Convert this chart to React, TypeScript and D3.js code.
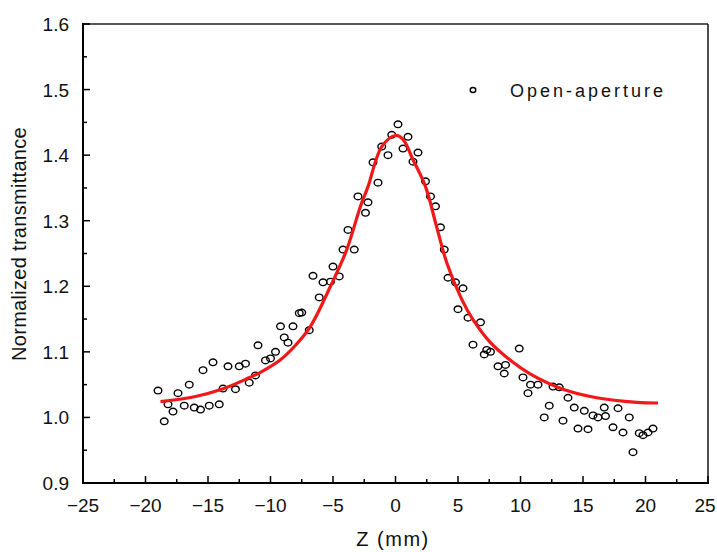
import React from 'react';
import * as d3 from 'd3';

// measured points (Z in mm, normalized transmittance)
const zMeasured = [
  -19.0, -18.5, -18.2, -17.8, -17.4, -16.9, -16.5, -16.1, -15.6, -15.4, -14.9, -14.6, -14.1, -13.8,
  -13.4, -12.8, -12.5, -12.0, -11.7, -11.2, -11.0, -10.4, -10.0, -9.6, -9.2, -8.9, -8.6, -8.2,
  -7.7, -7.5, -6.9, -6.6, -6.1, -5.8, -5.2, -5.0, -4.5, -4.2, -3.8, -3.3, -3.0, -2.4, -2.2,
  -1.8, -1.4, -1.1, -0.6, -0.3, 0.2, 0.6, 1.0, 1.4, 1.8, 2.4, 2.8, 3.2, 3.6, 3.9, 4.2, 4.8,
  5.0, 5.4, 5.8, 6.2, 6.8, 7.1, 7.3, 7.6, 8.2, 8.7, 8.8, 9.9, 10.2, 10.6, 10.8, 11.4, 11.9,
  12.3, 12.6, 13.1, 13.4, 13.8, 14.3, 14.6, 15.1, 15.4, 15.8, 16.2, 16.7, 16.8, 17.4, 17.8,
  18.2, 18.7, 19.0, 19.5, 19.8, 20.2, 20.6,
];
const tMeasured = [
  1.041, 0.994, 1.020, 1.009, 1.037, 1.018, 1.050, 1.015, 1.012, 1.072, 1.018, 1.084, 1.020, 1.044,
  1.078, 1.043, 1.078, 1.082, 1.053, 1.064, 1.110, 1.087, 1.090, 1.100, 1.139, 1.122, 1.114, 1.139,
  1.159, 1.160, 1.133, 1.216, 1.183, 1.206, 1.207, 1.230, 1.215, 1.256, 1.286, 1.256, 1.337, 1.312, 1.328,
  1.389, 1.358, 1.413, 1.400, 1.431, 1.447, 1.410, 1.428, 1.390, 1.404, 1.360, 1.337, 1.322, 1.290, 1.256, 1.213, 1.206,
  1.165, 1.197, 1.152, 1.111, 1.145, 1.096, 1.103, 1.100, 1.078, 1.067, 1.080, 1.105, 1.061, 1.037, 1.050, 1.050, 1.000,
  1.018, 1.047, 1.046, 0.995, 1.030, 1.015, 0.983, 1.010, 0.982, 1.003, 1.000, 1.015, 1.002, 0.985, 1.014,
  0.977, 1.000, 0.947, 0.976, 0.973, 0.977, 0.983,
];

// fitted curve
const zFit = [
  -18.8, -16, -13.9, -12, -10.7, -9.2, -8, -6.8, -5.2, -3.9, -2.8, -2.2, -1.1, 0, 0.6, 1.4, 2.4,
  3.3, 4.1, 5.3, 6.2, 7.6, 9.4, 10.8, 13.4, 16.1, 19.3, 21,
];
const tFit = [
  1.024, 1.032, 1.043, 1.058, 1.07, 1.088, 1.11, 1.139, 1.2, 1.256, 1.322, 1.352, 1.413, 1.43, 1.424, 1.393, 1.352,
  1.29, 1.236, 1.18, 1.149, 1.114, 1.084, 1.066, 1.043, 1.03, 1.023, 1.022,
];

const xTicks = [-25, -20, -15, -10, -5, 0, 5, 10, 15, 20, 25];
const yTicks = [0.9, 1.0, 1.1, 1.2, 1.3, 1.4, 1.5, 1.6];
const legendLabel = 'Open-aperture';

const W = 717, H = 552;
const left = 83, right = 708, top = 24, bottom = 483;
const font = 'Arial, "Liberation Sans", sans-serif';

export default function App() {
  const x = d3.scaleLinear().domain([-25, 25]).range([left, right]);
  const y = d3.scaleLinear().domain([0.9, 1.6]).range([bottom, top]);

  const points = zMeasured.map((z, i) => ({ z, t: tMeasured[i] }));
  const fit = zFit.map((z, i) => [z, tFit[i]] as [number, number]);
  const line = d3.line<[number, number]>()
    .x(d => x(d[0]))
    .y(d => y(d[1]))
    .curve(d3.curveCatmullRom.alpha(0.5));

  const xMinor = d3.range(-22.5, 25, 5);
  const yMinor = d3.range(0.95, 1.6, 0.1);

  return (
    <div style={{ position: 'absolute', left: 0, top: 0 }}>
      <svg width={W} height={H} style={{ display: 'block', background: '#fff' }}>
        {/* frame */}
        <line x1={left} x2={right} y1={top} y2={top} stroke="#222" strokeWidth={1.6} />
        <line x1={right} x2={right} y1={top} y2={bottom} stroke="#222" strokeWidth={1.6} />
        <line x1={left} x2={left} y1={top - 1} y2={bottom + 1} stroke="#000" strokeWidth={2} />
        <line x1={left - 1} x2={right + 1} y1={bottom} y2={bottom} stroke="#000" strokeWidth={2} />

        {/* x ticks */}
        {xTicks.map(t => (
          <g key={'xt' + t}>
            <line x1={x(t)} x2={x(t)} y1={bottom} y2={bottom - 7} stroke="#000" strokeWidth={1.5} />
            <text x={Math.min(x(t), W - 12)} y={bottom + 29} textAnchor="middle" fontFamily={font} fontSize={19}
              fill="#111">{t < 0 ? '\u2212' + Math.abs(t) : String(t)}</text>
          </g>
        ))}
        {xMinor.map(t => (
          <line key={'xm' + t} x1={x(t)} x2={x(t)} y1={bottom} y2={bottom - 4} stroke="#000" strokeWidth={1.5} />
        ))}

        {/* y ticks */}
        {yTicks.map(t => (
          <g key={'yt' + t}>
            <line x1={left} x2={left + 7} y1={y(t)} y2={y(t)} stroke="#000" strokeWidth={1.5} />
            <text x={left - 14} y={y(t) + 7} textAnchor="end" fontFamily={font} fontSize={19}
              fill="#111">{t.toFixed(1)}</text>
          </g>
        ))}
        {yMinor.map(t => (
          <line key={'ym' + t} x1={left} x2={left + 4} y1={y(t)} y2={y(t)} stroke="#000" strokeWidth={1.5} />
        ))}

        {/* axis titles */}
        <text x={393} y={546} textAnchor="middle" fontFamily={font} fontSize={20} letterSpacing={1.5}
          fill="#111">Z (mm)</text>
        <text transform={`translate(26,244) rotate(-90)`} textAnchor="middle"
          fontFamily={font} fontSize={20} letterSpacing={0.3} fill="#111">Normalized transmittance</text>

        {/* data */}
        {points.map((p, i) => (
          <ellipse key={i} cx={x(p.z)} cy={y(p.t)} rx={3.8} ry={3.3} fill="none" stroke="#000" strokeWidth={1.4} />
        ))}
        <path d={line(fit) ?? ''} fill="none" stroke="#f01818" strokeWidth={3.2} />

        {/* legend */}
        <ellipse cx={473} cy={90} rx={2.8} ry={2.5} fill="none" stroke="#000" strokeWidth={1.4} />
        <text x={510} y={97} fontFamily={font} fontSize={18} letterSpacing={3} fill="#111">{legendLabel}</text>
      </svg>
    </div>
  );
}
